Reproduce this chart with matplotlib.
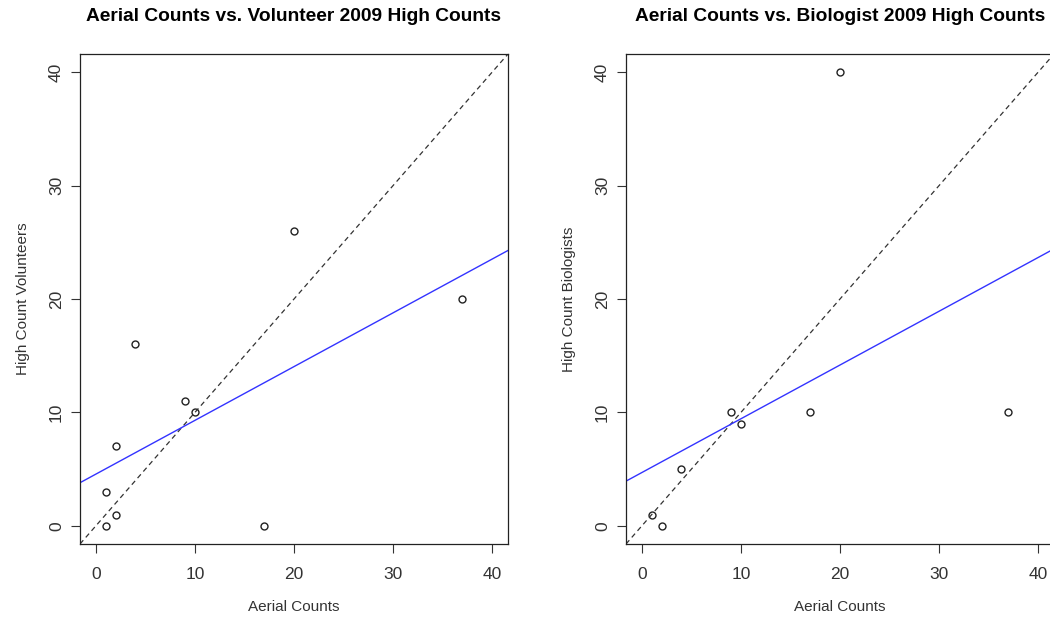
import matplotlib.pyplot as plt

plt.rcParams['font.family'] = ['Liberation Sans', 'DejaVu Sans']

# aerial counts vs. volunteer high counts (2009)
vol_aerial = [1, 1, 2, 2, 4, 9, 10, 17, 20, 37]
vol_high = [0, 3, 7, 1, 16, 11, 10, 0, 26, 20]
vol_fit = (4.56, 0.474)   # intercept, slope of fitted line

# aerial counts vs. biologist high counts (2009)
bio_aerial = [1, 2, 4, 9, 10, 17, 20, 37]
bio_high = [1, 0, 5, 10, 9, 10, 40, 10]
bio_fit = (4.70, 0.474)

ticks = [0, 10, 20, 30, 40]

fig = plt.figure(figsize=(10.5, 6.25), dpi=100)

W, H = 1050, 625
ax1 = fig.add_axes([80 / W, (H - 544) / H, 428 / W, 490 / H])
ax2 = fig.add_axes([626 / W, (H - 544) / H, 428 / W, 490 / H])

panels = [
    (ax1, vol_aerial, vol_high, vol_fit,
     "Aerial Counts vs. Volunteer 2009 High Counts", "High Count Volunteers"),
    (ax2, bio_aerial, bio_high, bio_fit,
     "Aerial Counts vs. Biologist 2009 High Counts", "High Count Biologists"),
]

for ax, x, y, fit, title, ylab in panels:
    ax.plot(x, y, linestyle='none', marker='o', markersize=5,
            markerfacecolor='none', markeredgecolor='#222', markeredgewidth=1)
    # 1:1 reference line
    ax.axline((0, 0), slope=1, color='#333', linestyle=(0, (4, 3)), linewidth=0.9)
    # fitted line
    ax.axline((0, fit[0]), slope=fit[1], color='#3333ff', linewidth=1)

    ax.set_xlim(-1.6, 41.6)
    ax.set_ylim(-1.6, 41.6)
    ax.set_xticks(ticks)
    ax.set_yticks(ticks)
    ax.tick_params(direction='out', length=6.5, width=0.8, colors='#333',
                   labelsize=12.5, labelcolor='#333')
    ax.tick_params(axis='x', pad=10)
    ax.tick_params(axis='y', pad=5)
    for lab in ax.get_yticklabels():
        lab.set_rotation(90)
        lab.set_va('center')
    for s in ax.spines.values():
        s.set_linewidth(0.9)
        s.set_color('#222')

    ax.set_title(title, fontsize=13.8, fontweight='bold', pad=24)
    ax.set_xlabel("Aerial Counts", fontsize=11, color='#333', labelpad=13)
    ax.set_ylabel(ylab, fontsize=11, color='#333', labelpad=14)

fig.savefig("out.png", dpi=100)
